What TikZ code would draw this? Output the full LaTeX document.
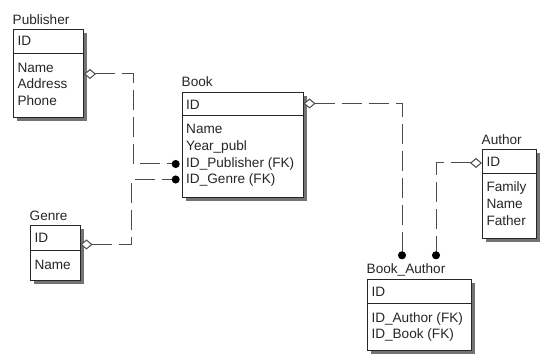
\documentclass[tikz,border=0pt]{standalone}
\usepackage{fontspec}
\setmainfont{Liberation Sans}
\usetikzlibrary{arrows.meta,shadows,calc}
\begin{document}
\begin{tikzpicture}[x=1pt,y=-1pt,
  ent/.style={draw=black!85, line width=1pt, fill=white, inner sep=0pt, anchor=north west,
    drop shadow={shadow xshift=3.5pt, shadow yshift=-3.5pt, fill=black!55, opacity=1}},
  divider/.style={draw=black!85, line width=1pt},
  lbl/.style={inner sep=0pt, anchor=base west, text=black!85, font=\fontsize{13.6pt}{16pt}\selectfont},
  rel/.style={draw=black!70, line width=1pt, dash pattern=on 20pt off 7pt},
  zeromany/.style={{Diamond[length=12pt,width=10pt,fill=white,line width=1pt]}-{Circle[length=8pt,color=black,fill=black]}}
]
\useasboundingbox (0,0) rectangle (542,358);

% Publisher
\node[ent, minimum width=70pt, minimum height=88pt] (pub) at (13,29) {};
\draw[divider] ([yshift=-25pt]pub.north west) -- ([yshift=-25pt]pub.north east);
\node[lbl] (pubT) at (12.5,24.5) {Publisher};
\node[lbl] (pubID) at (17.3,46) {ID};
\node[lbl] (pubN) at (17.3,72.5) {Name};
\node[lbl] (pubA) at (17.3,89) {Address};
\node[lbl] (pubP) at (17.3,105.5) {Phone};

% Book
\node[ent, minimum width=120.8pt, minimum height=105pt] (book) at (181.7,92) {};
\draw[divider] ([yshift=-24pt]book.north west) -- ([yshift=-24pt]book.north east);
\node[lbl] (bookT) at (181.5,86.5) {Book};
\node[lbl] (bookID) at (186,109.5) {ID};
\node[lbl] (bookN) at (186,134) {Name};
\node[lbl] (bookY) at (186,150.7) {Year\_publ};
\node[lbl] (bookP) at (186,167.4) {ID\_Publisher (FK)};
\node[lbl] (bookG) at (186,184) {ID\_Genre (FK)};

% Genre
\node[ent, minimum width=49.5pt, minimum height=55pt] (genre) at (30,225) {};
\draw[divider] ([yshift=-26pt]genre.north west) -- ([yshift=-26pt]genre.north east);
\node[lbl] (genreT) at (29.5,220.5) {Genre};
\node[lbl] (genreID) at (34.3,242.5) {ID};
\node[lbl] (genreN) at (34.3,269.3) {Name};

% Author
\node[ent, minimum width=54pt, minimum height=89pt] (auth) at (482,149) {};
\draw[divider] ([yshift=-25pt]auth.north west) -- ([yshift=-25pt]auth.north east);
\node[lbl] (authT) at (481.5,144.5) {Author};
\node[lbl] (authID) at (486.3,166.5) {ID};
\node[lbl] (authF) at (486.3,192) {Family};
\node[lbl] (authN) at (486.3,208.7) {Name};
\node[lbl] (authFa) at (486.3,225.4) {Father};

% Book_Author
\node[ent, minimum width=103.5pt, minimum height=71.2pt] (ba) at (367,279.3) {};
\draw[divider] ([yshift=-24.7pt]ba.north west) -- ([yshift=-24.7pt]ba.north east);
\node[lbl] (baT) at (366.5,274) {Book\_Author};
\node[lbl] (baID) at (371.3,296.7) {ID};
\node[lbl] (baA) at (371.3,322.3) {ID\_Author (FK)};
\node[lbl] (baB) at (371.3,339) {ID\_Book (FK)};

\coordinate (dotA) at ([xshift=35pt,yshift=20pt]ba.north west);
\coordinate (dotB) at ([xshift=69pt,yshift=20pt]ba.north west);

% Relationships
\draw[rel, zeromany, shorten >=2pt] ([yshift=-45pt]pub.north east) -- ++(49.5,0) |- ([yshift=-72pt]book.north west);
\draw[rel, zeromany, shorten >=2pt] ([yshift=-19.5pt]genre.north east) -- ++(51,0) |- ([yshift=-87.5pt]book.north west);
\draw[rel, zeromany] ([yshift=-11.5pt]book.north east) -| (dotA);
\draw[rel, zeromany] ([yshift=-14pt]auth.north west) -| (dotB);
\end{tikzpicture}
\end{document}
